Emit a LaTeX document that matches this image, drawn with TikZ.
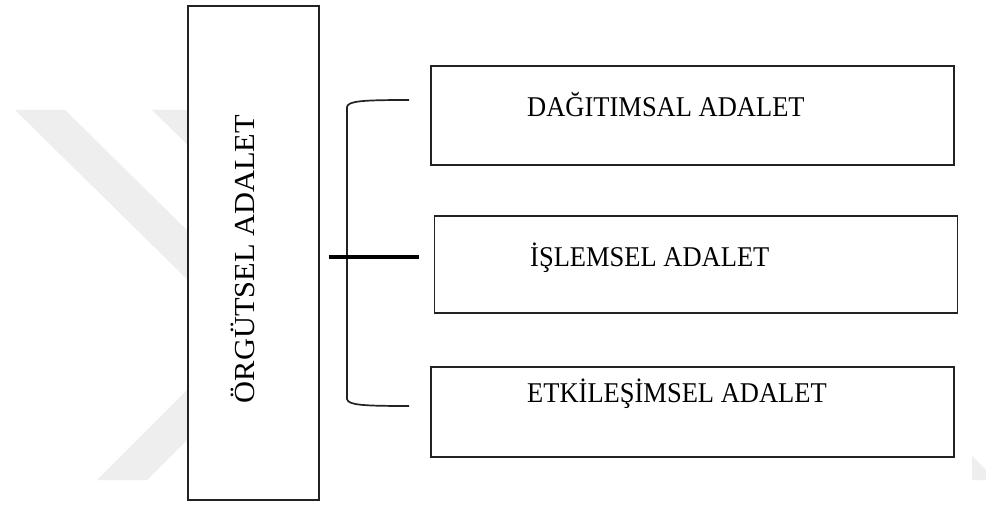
\documentclass[tikz,border=0pt]{standalone}
\usepackage{fontspec}
\setmainfont{Liberation Serif}
\definecolor{wm}{RGB}{238,238,238}
\definecolor{ln}{RGB}{34,34,34}
\begin{document}
\begin{tikzpicture}[x=1pt,y=-1pt,
  box/.style={draw=ln,line width=1.6pt,fill=white,rectangle,inner sep=0pt},
  lbl/.style={inner sep=0pt,anchor=base west,font=\fontsize{26.5}{28}\selectfont},
  brk/.style={draw=ln,line width=1.7pt},
  stem/.style={draw=black,line width=3.5pt}]
\useasboundingbox[fill=white] (0,0) rectangle (986,505);
% watermark
\fill[wm] (15,110) -- (65,110) -- (200,243) -- (200,292) -- cycle;
\fill[wm] (152,110) -- (200,110) -- (200,157) -- cycle;
\fill[wm] (97,480) -- (147,480) -- (200,427) -- (200,377) -- cycle;
\fill[wm] (972,456) -- (986,470) -- (986,480) -- (972,480) -- cycle;
% main box
\node[box,minimum width=131pt,minimum height=494pt] (org) at (253.5,253) {};
\node[inner sep=0pt,rotate=90,anchor=base,font=\fontsize{29}{30}\selectfont] (orgt) at (254,259) {\scalebox{1.05}[1]{ÖRGÜTSEL ADALET}};
% right boxes
\node[box,minimum width=523pt,minimum height=99pt] (b1) at (692.5,115.5) {};
\node[box,minimum width=523pt,minimum height=97pt] (b2) at (696,264.5) {};
\node[box,minimum width=523pt,minimum height=90pt] (b3) at (692.5,412) {};
\node[lbl] (t1) at (527,117) {\scalebox{1}[1.08]{DAĞITIMSAL ADALET}};
\node[lbl] (t2) at (530,267) {\scalebox{1}[1.08]{İŞLEMSEL ADALET}};
\node[lbl] (t3) at (527,402) {\scalebox{1}[1.08]{ETKİLEŞİMSEL ADALET}};
% bracket
\coordinate (bt) at (409,100);
\coordinate (bb) at (409,406);
\coordinate (sl) at (329,257);
\coordinate (sr) at (419,257);
\draw[brk] (bt) .. controls (362,100) and (348,101) .. (347,107) -- (347,399) .. controls (348,405) and (362,406) .. (bb);
\draw[stem] (sl) -- (sr);
\end{tikzpicture}
\end{document}
